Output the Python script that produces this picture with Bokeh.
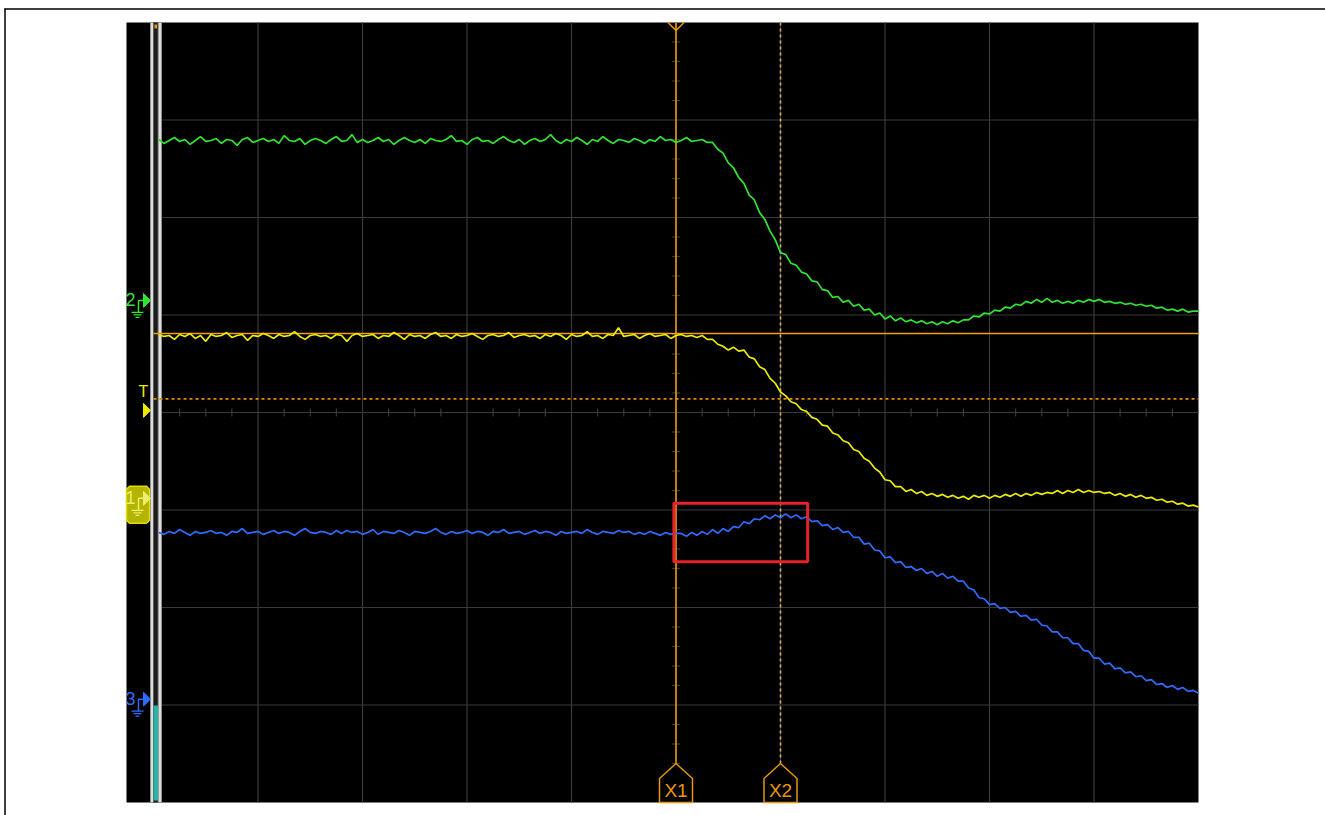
from bokeh.plotting import figure
from bokeh.models import Range1d
from bokeh.embed import file_html
from bokeh.resources import INLINE
from bokeh.core.properties import value

# ---------------- data (time and volts in screen divisions) ----------------
time_div = [round(0.05 * (i + 1), 2) for i in range(200)]

ch2_green = [
    2.80, 2.76, 2.79, 2.82, 2.78, 2.80, 2.75, 2.79, 2.83, 2.78,
    2.79, 2.81, 2.76, 2.80, 2.79, 2.74, 2.80, 2.82, 2.77, 2.79,
    2.81, 2.78, 2.80, 2.76, 2.84, 2.79, 2.78, 2.81, 2.75, 2.79,
    2.81, 2.79, 2.76, 2.80, 2.83, 2.78, 2.79, 2.85, 2.77, 2.80,
    2.77, 2.79, 2.82, 2.78, 2.80, 2.75, 2.79, 2.82, 2.79, 2.77,
    2.80, 2.76, 2.81, 2.79, 2.78, 2.80, 2.84, 2.78, 2.79, 2.75,
    2.80, 2.82, 2.78, 2.79, 2.76, 2.80, 2.83, 2.79, 2.77, 2.80,
    2.75, 2.79, 2.81, 2.78, 2.80, 2.85, 2.79, 2.76, 2.80, 2.78,
    2.82, 2.79, 2.75, 2.80, 2.78, 2.83, 2.79, 2.76, 2.80, 2.79,
    2.77, 2.81, 2.79, 2.76, 2.80, 2.78, 2.83, 2.79, 2.80, 2.77,
    2.79, 2.82, 2.78, 2.79,
    2.80, 2.77, 2.77, 2.70, 2.66,
    2.56, 2.51, 2.41, 2.35, 2.23,
    2.18, 2.05, 1.98, 1.86, 1.77,
    1.64, 1.62, 1.53, 1.51, 1.44,
    1.42, 1.35, 1.34, 1.26, 1.25,
    1.18, 1.19, 1.13, 1.15, 1.09,
    1.11, 1.05, 1.06, 1.00, 1.02,
    0.96, 0.99, 0.94, 0.97, 0.93,
    0.95, 0.92, 0.94, 0.91, 0.93,
    0.90, 0.93, 0.91, 0.94, 0.92,
    0.95, 0.95, 0.99, 0.98, 1.02,
    1.01, 1.05, 1.04, 1.08, 1.07,
    1.11, 1.10, 1.14, 1.12, 1.16,
    1.13, 1.17, 1.13, 1.15, 1.12,
    1.14, 1.12, 1.15, 1.13, 1.16,
    1.14, 1.16, 1.13, 1.14, 1.12,
    1.13, 1.11, 1.12, 1.10, 1.11,
    1.09, 1.10, 1.07, 1.08, 1.05,
    1.06, 1.04, 1.06, 1.03, 1.04,
    1.04,
]

ch1_yellow = [
    0.80, 0.78, 0.79, 0.75, 0.80, 0.78, 0.81, 0.76, 0.79, 0.73,
    0.80, 0.78, 0.79, 0.82, 0.77, 0.79, 0.80, 0.74, 0.79, 0.78,
    0.81, 0.79, 0.76, 0.80, 0.78, 0.79, 0.83, 0.78, 0.75, 0.79,
    0.80, 0.78, 0.79, 0.76, 0.80, 0.79, 0.73, 0.79, 0.81, 0.78,
    0.79, 0.80, 0.76, 0.79, 0.78, 0.82, 0.79, 0.75, 0.80, 0.78,
    0.79, 0.76, 0.80, 0.82, 0.78, 0.79, 0.76, 0.80, 0.78, 0.79,
    0.81, 0.78, 0.75, 0.79, 0.80, 0.78, 0.79, 0.82, 0.77, 0.79,
    0.80, 0.78, 0.79, 0.76, 0.80, 0.78, 0.81, 0.79, 0.75, 0.80,
    0.78, 0.79, 0.83, 0.78, 0.79, 0.76, 0.80, 0.79, 0.87, 0.78,
    0.79, 0.80, 0.76, 0.79, 0.81, 0.78, 0.79, 0.80, 0.76, 0.79,
    0.80, 0.78, 0.79, 0.77,
    0.79, 0.75, 0.75, 0.70, 0.68,
    0.64, 0.67, 0.63, 0.64, 0.57,
    0.55, 0.47, 0.44, 0.35, 0.30,
    0.21, 0.17, 0.11, 0.09, 0.03,
    0.01, -0.05, -0.07, -0.13, -0.14,
    -0.21, -0.23, -0.29, -0.31, -0.38,
    -0.40, -0.47, -0.50, -0.57, -0.61,
    -0.69, -0.70, -0.76, -0.76, -0.81,
    -0.79, -0.83, -0.81, -0.85, -0.83,
    -0.86, -0.84, -0.87, -0.85, -0.88,
    -0.86, -0.89, -0.85, -0.87, -0.85,
    -0.88, -0.85, -0.87, -0.84, -0.86,
    -0.83, -0.86, -0.83, -0.85, -0.82,
    -0.84, -0.82, -0.83, -0.80, -0.83,
    -0.80, -0.82, -0.79, -0.82, -0.80,
    -0.82, -0.81, -0.83, -0.82, -0.85,
    -0.83, -0.86, -0.84, -0.87, -0.85,
    -0.88, -0.87, -0.90, -0.89, -0.92,
    -0.91, -0.94, -0.93, -0.96, -0.95,
    -0.97,
]

ch3_blue = [
    -1.23, -1.25, -1.22, -1.24, -1.20, -1.23, -1.26, -1.22, -1.24, -1.23,
    -1.21, -1.24, -1.23, -1.26, -1.22, -1.23, -1.19, -1.24, -1.23, -1.22,
    -1.25, -1.23, -1.21, -1.24, -1.22, -1.23, -1.26, -1.22, -1.19, -1.23,
    -1.24, -1.22, -1.23, -1.25, -1.21, -1.24, -1.21, -1.23, -1.22, -1.25,
    -1.23, -1.20, -1.25, -1.22, -1.23, -1.24, -1.21, -1.23, -1.26, -1.22,
    -1.23, -1.24, -1.22, -1.19, -1.23, -1.25, -1.22, -1.24, -1.23, -1.21,
    -1.24, -1.22, -1.23, -1.26, -1.22, -1.23, -1.20, -1.24, -1.23, -1.22,
    -1.25, -1.23, -1.21, -1.24, -1.22, -1.23, -1.26, -1.22, -1.24, -1.23,
    -1.22, -1.24, -1.20, -1.23, -1.25, -1.22, -1.23, -1.24, -1.21, -1.23,
    -1.22, -1.25, -1.23, -1.25, -1.22, -1.24, -1.26, -1.23, -1.25, -1.24,
    -1.24, -1.27, -1.23, -1.26, -1.22, -1.25, -1.20, -1.24, -1.19, -1.22,
    -1.17, -1.18, -1.12, -1.14, -1.09, -1.10, -1.06, -1.09, -1.05, -1.08,
    -1.04, -1.08, -1.05, -1.09, -1.07, -1.12, -1.11, -1.16, -1.15, -1.20,
    -1.18, -1.23, -1.22, -1.28, -1.28, -1.35, -1.34, -1.41, -1.42, -1.49,
    -1.48, -1.54, -1.53, -1.59, -1.58, -1.62, -1.60, -1.65, -1.63, -1.68,
    -1.65, -1.70, -1.68, -1.73, -1.73, -1.80, -1.82, -1.90, -1.91, -1.97,
    -1.96, -2.01, -2.00, -2.05, -2.04, -2.09, -2.08, -2.13, -2.12, -2.18,
    -2.19, -2.25, -2.25, -2.31, -2.31, -2.37, -2.37, -2.44, -2.45, -2.52,
    -2.52, -2.58, -2.57, -2.63, -2.62, -2.67, -2.66, -2.71, -2.70, -2.75,
    -2.74, -2.79, -2.78, -2.82, -2.80, -2.84, -2.82, -2.86, -2.85, -2.88,
]

channel_labels = ["2", "1", "3"]
channel_levels = [1.15, -0.88, -2.94]
trigger_level = 0.14
reference_level = 0.81
cursor_names = ["X1", "X2"]
cursor_pos = [5.0, 6.0]
box_x = [4.98, 6.26]
box_y = [-1.53, -0.93]
grid_x = [1, 2, 3, 4, 5, 6, 7, 8, 9]
grid_y = [-3, -2, -1, 0, 1, 2, 3]

# ---------------- styling ----------------
GREEN = "#2fe52f"
YELLOW = "#ecec00"
BLUE = "#2f6bff"
ORANGE = "#e8960a"
ORANGE_DOT = "#d9ad5c"
GRID = "#3a3a3a"
RED = "#e8222a"
FONT = value("Liberation Sans")

PXX = 10 / 1045.0   # divisions per pixel (horizontal)
PXY = 8 / 780.0     # divisions per pixel (vertical)
W, H = 1325, 815

def dx(n):
    return n * PXX

def dy(n):
    return n * PXY

x_lo = -153 * PXX
x_hi = x_lo + W * PXX
y_hi = 412 * PXY
y_lo = y_hi - H * PXY

p = figure(width=W, height=H, output_backend="svg", toolbar_location=None,
           x_range=Range1d(x_lo, x_hi), y_range=Range1d(y_lo, y_hi),
           x_axis_location=None, y_axis_location=None,
           min_border=0, min_border_left=0, min_border_right=0,
           min_border_top=0, min_border_bottom=0)
p.outline_line_color = None
p.background_fill_color = "white"
p.border_fill_color = "white"
p.xgrid.visible = False
p.ygrid.visible = False

# screen background
p.quad(left=[dx(-27)], right=[10], bottom=[-4], top=[4], fill_color="black", line_color=None)

# graticule
p.segment(x0=grid_x, y0=[-4] * len(grid_x), x1=grid_x, y1=[4] * len(grid_x),
          line_color=GRID, line_width=1.2)
p.segment(x0=[0] * len(grid_y), y0=grid_y, x1=[10] * len(grid_y), y1=grid_y,
          line_color=GRID, line_width=1.2)
hx = [k * 0.25 for k in range(1, 40) if k % 4]
p.segment(x0=hx, y0=[-dy(4)] * len(hx), x1=hx, y1=[dy(4)] * len(hx), line_color=GRID, line_width=1.2)
vy = [k * 0.2 for k in range(-19, 20) if k % 5]
p.segment(x0=[5 - dx(4)] * len(vy), y0=vy, x1=[5 + dx(4)] * len(vy), y1=vy, line_color=GRID, line_width=1.2)

# left scroll bar
p.quad(left=[dx(-3)], right=[dx(8)], bottom=[-4], top=[4], fill_color="#dedede", line_color="#8e8e8e", line_width=1)
p.quad(left=[dx(0)], right=[dx(4.5)], bottom=[-4], top=[4], fill_color="#1c1c1c", line_color="#5a5a5a", line_width=1)
p.quad(left=[dx(0)], right=[dx(4.5)], bottom=[-4 + dy(2)], top=[-4 + dy(97)], fill_color="#27b3a6", line_color=None)
p.quad(left=[dx(1)], right=[dx(3.5)], bottom=[4 - dy(6)], top=[4 - dy(2)], fill_color=ORANGE, line_color=None)

# trigger and reference levels
p.line([0, 10], [trigger_level, trigger_level], line_color="#e88c00", line_width=1.6, line_dash="3 3")
p.line([0, 10], [reference_level, reference_level], line_color="#f0a010", line_width=1.6)

# cursors
tip = -4 + dy(39)
shoulder = -4 + dy(24)
for name, cx in zip(cursor_names, cursor_pos):
    if name == "X1":
        p.line([cx, cx], [tip, 4], line_color=ORANGE, line_width=1.6)
    else:
        p.line([cx, cx], [tip, 4], line_color=ORANGE_DOT, line_width=1.6, line_dash="3 3")
    p.patch([cx - dx(16.5), cx - dx(16.5), cx, cx + dx(16.5), cx + dx(16.5)],
            [-4, shoulder, tip, shoulder, -4], fill_color="black", line_color=ORANGE, line_width=1.5)
    p.text(x=[cx], y=[-4 + dy(12)], text=[name], text_color=ORANGE, text_font=FONT,
           text_font_size=value("19px"), text_align="center", text_baseline="middle")

# trigger position marker on top
c1 = cursor_pos[0]
p.line([c1 - dx(8), c1, c1 + dx(8)], [4, 4 - dy(8), 4], line_color=ORANGE, line_width=1.6)

# traces
p.line(time_div, ch2_green, line_color=GREEN, line_width=1.7)
p.line(time_div, ch1_yellow, line_color=YELLOW, line_width=1.7)
p.line(time_div, ch3_blue, line_color=BLUE, line_width=1.7)

# highlight box
p.quad(left=[box_x[0]], right=[box_x[1]], bottom=[box_y[0]], top=[box_y[1]],
       fill_color=None, line_color=RED, line_width=3)

# channel ground markers
colors = {"2": GREEN, "1": "#eded70", "3": BLUE}
for lab, lev in zip(channel_labels, channel_levels):
    col = colors[lab]
    if lab == "1":
        p.patch([dx(-27), dx(-24), dx(-7), dx(-4), dx(-4), dx(-7), dx(-24), dx(-27)],
                [lev + dy(9), lev + dy(12), lev + dy(12), lev + dy(9),
                 lev - dy(22), lev - dy(25), lev - dy(25), lev - dy(22)],
                fill_color="#b3b300", line_color="#dede00", line_width=1.5)
    p.patch([dx(-10), dx(-3), dx(-10)], [lev + dy(7), lev, lev - dy(7)], fill_color=col, line_color=col)
    p.line([dx(-10), dx(-15), dx(-15)], [lev, lev, lev - dy(12)], line_color=col, line_width=1.5)
    for half, off in [(6, 12), (4, 14.5), (2, 17)]:
        p.segment(x0=[dx(-16 - half)], y0=[lev - dy(off)], x1=[dx(-16 + half)], y1=[lev - dy(off)],
                  line_color=col, line_width=1.3)
    p.text(x=[dx(-23)], y=[lev + dy(1)], text=[lab], text_color=col, text_font=FONT,
           text_font_size=value("18px"), text_align="center", text_baseline="middle")

# trigger marker "T"
p.text(x=[dx(-10)], y=[trigger_level + dy(7)], text=["T"], text_color=YELLOW, text_font=FONT,
       text_font_size=value("16px"), text_align="center", text_baseline="middle")
p.patch([dx(-10), dx(-3), dx(-10)],
        [trigger_level - dy(4.5), trigger_level - dy(11.5), trigger_level - dy(18.5)],
        fill_color=YELLOW, line_color=YELLOW)

# page frame (top and left edges)
p.line([x_lo + dx(4), x_hi], [y_hi - dy(8.5), y_hi - dy(8.5)], line_color="black", line_width=1.5)
p.line([x_lo + dx(4.5), x_lo + dx(4.5)], [y_lo, y_hi - dy(8)], line_color="black", line_width=1.5)

open("out.html", "w").write(file_html(p, INLINE))
